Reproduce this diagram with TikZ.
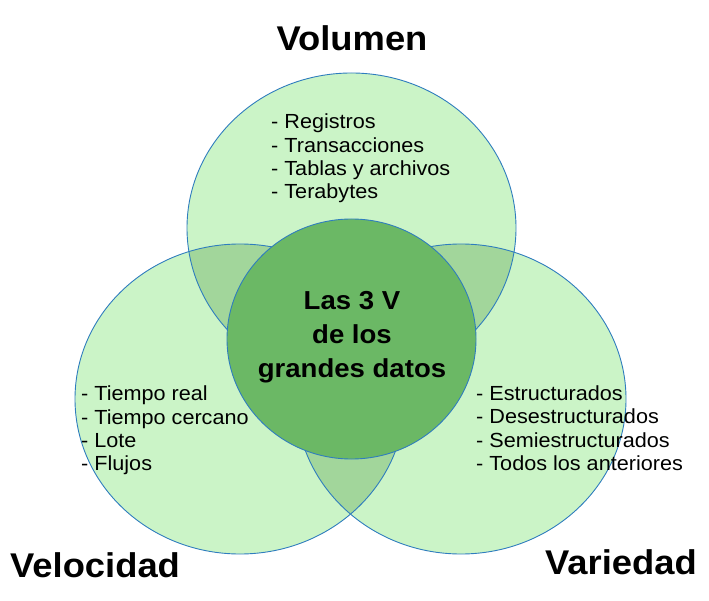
\documentclass[tikz,border=0pt]{standalone}
\usepackage{fontspec}
\setmainfont[FakeStretch=1.06]{Liberation Sans}
\usetikzlibrary{positioning}
\definecolor{setfill}{HTML}{CBF4C7}
\definecolor{pairfill}{HTML}{A2D69B}
\definecolor{corefill}{HTML}{6BB865}
\definecolor{setline}{HTML}{2F7DBE}

% the three sets and the core
\newcommand{\volset}{(351.5,228) ellipse [x radius=164.5pt, y radius=155pt]}
\newcommand{\velset}{(240,399) ellipse [x radius=165pt, y radius=155pt]}
\newcommand{\varset}{(461,399) ellipse [x radius=165pt, y radius=155pt]}
\newcommand{\coreset}{(351.5,339) ellipse [x radius=124.5pt, y radius=120pt]}

\begin{document}
\begin{tikzpicture}[x=1pt, y=-1pt,
  setedge/.style={draw=setline, line width=0.9pt},
  title/.style={inner sep=0pt, font=\fontsize{34.3}{38}\selectfont\bfseries},
  coretext/.style={inner sep=0pt, align=center, font=\fontsize{26}{34}\selectfont\bfseries},
  itemlist/.style={inner sep=0pt, align=left, anchor=north west, font=\fontsize{20.4}{23.3}\selectfont}]
 \useasboundingbox (0,0) rectangle (709,601);
 % fills
 \fill[setfill] \volset;
 \fill[setfill] \velset;
 \fill[setfill] \varset;
 \begin{scope}
  \clip \volset;
  \fill[pairfill] \velset;
  \fill[pairfill] \varset;
 \end{scope}
 \begin{scope}
  \clip \velset;
  \fill[pairfill] \varset;
 \end{scope}
 % outlines
 \draw[setedge] \volset;
 \draw[setedge] \velset;
 \draw[setedge] \varset;
 \fill[corefill, setedge] \coreset;
 % labels
 \node[title] (voltitle) at (352,38) {Volumen};
 \node[title, anchor=west] (veltitle) at (10,565) {Velocidad};
 \node[title, anchor=east] (vartitle) at (697,562) {Variedad};
 \node[coretext] (core) at (352,337) {Las 3 V\\de los\\grandes datos};
 \node[itemlist] (vollist) at (271,114) {- Registros\\- Transacciones\\- Tablas y archivos\\- Terabytes};
 \node[itemlist] (vellist) at (81,386) {- Tiempo real\\- Tiempo cercano\\- Lote\\- Flujos};
 \node[itemlist] (varlist) at (476,385.5) {- Estructurados\\- Desestructurados\\- Semiestructurados\\- Todos los anteriores};
\end{tikzpicture}
\end{document}
